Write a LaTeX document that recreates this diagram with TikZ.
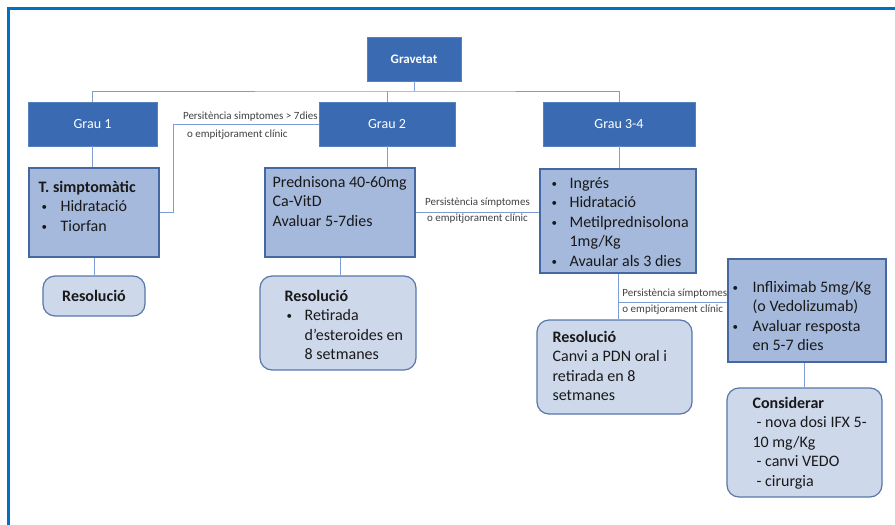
\documentclass[tikz,border=0pt]{standalone}
\usepackage{fontspec}
\setmainfont{Carlito}
\usepackage{xcolor}
\usetikzlibrary{positioning}

\definecolor{framecol}{RGB}{0,112,192}
\definecolor{graufill}{RGB}{58,107,178}
\definecolor{grauline}{RGB}{84,130,190}
\definecolor{treatfill}{RGB}{164,185,219}
\definecolor{treatline}{RGB}{70,104,160}
\definecolor{resfill}{RGB}{206,216,235}
\definecolor{resline}{RGB}{88,118,170}
\definecolor{linkcol}{RGB}{125,158,212}
\definecolor{lblcol}{RGB}{64,64,64}
\definecolor{txtcol}{RGB}{25,25,25}

\newcommand{\bdot}{\raisebox{1pt}{\fontsize{11}{11}\selectfont\textbullet}}
\newcommand{\itm}{\makebox[18pt][l]{\bdot}}

\begin{document}
\begin{tikzpicture}[x=1pt, y=-1pt, % pixel units, y runs down
  grau/.style={rectangle, fill=graufill, draw=grauline, text=white, minimum height=44pt, font=\fontsize{14}{16}\selectfont}, % dark header boxes
  treat/.style={rectangle, fill=treatfill, draw=treatline, line width=1.2pt}, % treatment boxes
  resol/.style={rectangle, rounded corners=12pt, fill=resfill, draw=resline, line width=1.2pt}, % outcome boxes
  txt/.style={inner sep=0pt, align=left, text=txtcol, font=\fontsize{16}{19.5}\selectfont}, % text inside the boxes
  link/.style={draw=linkcol, line width=0.9pt},
  lbl/.style={inner sep=0pt, text=lblcol, font=\fontsize{11}{13}\selectfont}, % small labels on the links
]
\useasboundingbox (0,0) rectangle (895,525);
\draw[framecol, line width=3pt] (8,525) -- (8,8) -- (895,8);

% header row
\node[grau, minimum width=94pt, font=\bfseries\fontsize{13}{15}\selectfont] (grav) at (414,59) {Gravetat};
\node[grau, minimum width=129pt] (g1) at (92.5,124) {Grau 1};
\node[grau, minimum width=136pt] (g2) at (387,124) {Grau 2};
\node[grau, minimum width=152pt] (g34) at (619,124) {Grau 3-4};

% treatment boxes
\node[treat, minimum width=130pt, minimum height=89pt] (tsimp) at (94,212.5) {};
\node[treat, minimum width=150pt, minimum height=89pt] (pred) at (340,212.5) {};
\node[treat, minimum width=156pt, minimum height=104pt] (ingres) at (618,221) {};
\node[treat, minimum width=158pt, minimum height=103pt] (inflix) at (807,310.5) {};

% outcome boxes
\node[resol, minimum width=102pt, minimum height=40pt, text=txtcol, font=\bfseries\fontsize{16}{19.5}\selectfont] (res1) at (94,296) {Resolució};
\node[resol, minimum width=156pt, minimum height=94pt] (res2) at (338,323) {};
\node[resol, minimum width=155pt, minimum height=94pt] (res3) at (614.5,367) {};
\node[resol, minimum width=155pt, minimum height=109pt] (consid) at (804.5,442.5) {};

% box texts
\node[txt, below right=11pt and 10pt of tsimp.north west] (tsimpT) {\strut\textbf{T. simptomàtic}\\
  \hspace{3pt}\makebox[19pt][l]{\bdot}Hidratació\\
  \hspace{3pt}\makebox[19pt][l]{\bdot}Tiorfan};
\node[txt, below right=6pt and 8pt of pred.north west] (predT) {\strut Prednisona 40-60mg\\Ca-VitD\\Avaluar 5-7dies};
\node[txt, below right=6pt and 12pt of ingres.north west] (ingresT) {\strut\itm Ingrés\\\itm Hidratació\\\itm Metilprednisolona\\
  \hspace{18pt}1mg/Kg\\\itm Avaular als 3 dies};
\node[txt, below right=20pt and 5pt of inflix.north west] (inflixT) {\strut\makebox[20pt][l]{\bdot}Infliximab 5mg/Kg\\
  \hspace{20pt}(o Vedolizumab)\\\makebox[20pt][l]{\bdot}Avaluar resposta\\\hspace{20pt}en 5-7 dies};
\node[txt, below right=12pt and 25pt of res2.north west] (res2T) {\strut\textbf{Resolució}\\
  \hspace{2pt}\itm Retirada\\\hspace{20pt}d’esteroides en\\\hspace{20pt}8 setmanes};
\node[txt, below right=9pt and 16pt of res3.north west] (res3T) {\strut\textbf{Resolució}\\Canvi a PDN oral i\\retirada en 8\\setmanes};
\node[txt, below right=7pt and 26pt of consid.north west] (considT) {\strut\textbf{Considerar}\\\hspace{4pt}- nova dosi IFX 5-\\10 mg/Kg\\
  \hspace{4pt}- canvi VEDO\\\hspace{4pt}- cirurgia};

% links
\coordinate (bus) at (414,91);
\draw[link] (g1.north) |- (bus) -| (g34.north);
\draw[link] (grav.south) -- (bus);
\draw[link] (g2.north) -- (g2.north |- bus);
\draw[link] (g1.south) -- (g1.south |- tsimp.north);
\draw[link] (tsimp.south) -- (res1.north);
\draw[link] (g2.south) -- (g2.south |- pred.north);
\draw[link] (pred.south) -- (pred.south |- res2.north);
\draw[link] (g34.south) -- (g34.south |- ingres.north);
\draw[link] (ingres.south) -- (ingres.south |- res3.north);
\draw[link] (consid.north |- inflix.south) -- (consid.north);

\draw[link] (tsimp.east) -- ++(14,0) |- (g2.west)
  node[pos=0.5, lbl, anchor=base west, xshift=9pt, yshift=5pt] (la1) {Persitència simptomes > 7dies}
  node[pos=0.5, lbl, anchor=base west, xshift=13pt, yshift=-13pt] (la2) {o empitjorament clínic};
\draw[link] (pred.east) -- (pred.east -| ingres.west)
  node[midway, lbl, anchor=base, yshift=7.5pt] (lb1) {Persistència símptomes}
  node[midway, lbl, anchor=base, yshift=-9pt] (lb2) {o empitjorament clínic};
\coordinate (split) at (618,302);
\draw[link] (split) -- (split -| inflix.west)
  node[pos=0, lbl, anchor=base west, xshift=4pt, yshift=6pt] (lc1) {Persistència símptomes}
  node[pos=0, lbl, anchor=base west, xshift=4pt, yshift=-10pt] (lc2) {o empitjorament clínic};
\end{tikzpicture}
\end{document}
